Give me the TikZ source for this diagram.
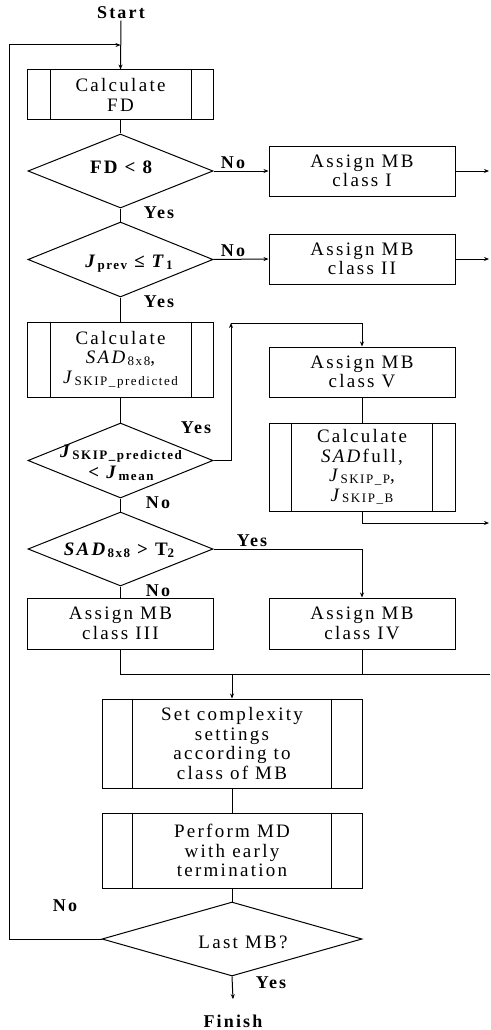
\documentclass[tikz,border=0pt]{standalone}
\usepackage{fontspec}
\setmainfont{Liberation Serif}[LetterSpace=12]
\usetikzlibrary{shapes.geometric,arrows.meta}
\newcommand\sml[1]{\raisebox{-0.1em}{\fontsize{13}{13}\selectfont #1}}
\begin{document}
\begin{tikzpicture}[x=1pt,y=-1pt,line width=1pt,
  box/.style={draw,rectangle,minimum width=186pt,minimum height=50pt,inner sep=0pt,align=center,font=\fontsize{19}{19.5}\selectfont},
  dia/.style={draw,diamond,minimum width=185pt,minimum height=74pt,inner sep=0pt},
  dtxt/.style={font=\fontsize{19}{21}\selectfont\bfseries,align=center,inner sep=0pt},
  lbl/.style={font=\fontsize{18}{18}\selectfont\bfseries,inner sep=1pt},
  arr/.style={-{Stealth[length=5pt,width=4pt]}}]
\useasboundingbox (0,0) rectangle (490,1030);
% nodes
\node[lbl] (start) at (121,13) {Start};
\node[box] (fd) at (120.5,95) {Calculate\\FD};
\node[dia] (d1) at (120.5,171) {};
\node[dtxt] (t1) at (121,167) {FD < 8};
\node[box] (c1) at (362,171) {Assign MB\\class I};
\node[dia,minimum height=75pt] (d2) at (120.5,259.5) {};
\node[dtxt] (t2) at (129,264) {\textit{J}\sml{prev} ≤ \textit{T}\sml{1}};
\node[box] (c2) at (362,259) {Assign MB\\class II};
\node[box,minimum height=75pt] (sad) at (120.5,359.5) {Calculate\\\textit{SAD}\sml{8x8},\\\textit{J}\sml{SKIP\_predicted}};
\node[dia,minimum height=75pt] (d3) at (120.5,460.5) {};
\node[dtxt] (t3) at (121,463) {\textit{J}\sml{SKIP\_predicted}\\< \textit{J}\sml{mean}};
\node[box] (c5) at (362,372) {Assign MB\\class V};
\node[box,minimum height=88pt] (sadf) at (362,467) {Calculate\\\textit{SAD}full,\\\textit{J}\sml{SKIP\_P},\\\textit{J}\sml{SKIP\_B}};
\node[dia] (d4) at (120.5,549) {};
\node[dtxt] (t4) at (119,550) {\textit{SAD}\sml{8x8} > T\sml{2}};
\node[box,minimum height=51pt] (c3) at (120.5,623.5) {Assign MB\\class III};
\node[box,minimum height=51pt] (c4) at (362,623.5) {Assign MB\\class IV};
\node[box,minimum width=260pt,minimum height=89pt] (set) at (232,743.5) {Set complexity\\settings\\according to\\class of MB};
\node[box,minimum width=260pt,minimum height=75pt] (md) at (232,850.5) {Perform MD\\with early\\termination};
\node[dia,minimum width=260pt] (d5) at (232,939) {};
\node[font=\fontsize{19}{19}\selectfont,inner sep=0pt] (t5) at (243,942) {Last MB?};
\node[lbl] (fin) at (233,1021) {Finish};
% subprocess side bars
\foreach \n/\o in {fd/23,sad/23,sadf/23,set/31,md/31}{
  \draw ([xshift=\o pt]\n.north west) -- ([xshift=\o pt]\n.south west)
        ([xshift=-\o pt]\n.north east) -- ([xshift=-\o pt]\n.south east);}
% helper coordinates
\coordinate (j1) at (120.5,45);
\coordinate (lp) at (9,45);
\coordinate (e1) at (489,171);
\coordinate (e2) at (489,259);
\coordinate (e3) at (489,523);
\coordinate (k1) at (231,323);
\coordinate (m3) at (490,674);
\coordinate (m2) at (232,674);
% connectors
\draw[arr] (start.south) -- (fd.north);
\draw (fd.south) -- (d1.north);
\draw[arr] (d1.east) -- (c1.west);
\draw[arr] (c1.east) -- (e1);
\draw (d1.south) -- (d2.north);
\draw[arr] (d2.east) -- (c2.west);
\draw[arr] (c2.east) -- (e2);
\draw (d2.south) -- (sad.north);
\draw (sad.south) -- (d3.north);
\draw[arr] (d3.east) -| (k1);
\draw[arr] (k1) -| (c5.north);
\draw (c5.south) -- (sadf.north);
\draw[arr] (sadf.south) |- (e3);
\draw (d3.south) -- (d4.north);
\draw[arr] (d4.east) -| (c4.north);
\draw (d4.south) -- (c3.north);
\draw (c3.south) |- (m3);
\draw (c4.south) -- (c4.south |- m3);
\draw[arr] (m2) -- (set.north);
\draw (set.south) -- (md.north);
\draw (md.south) -- (d5.north);
\draw[arr] (d5.west) -| (lp) -- (j1);
\draw[arr] (d5.south) -- ([yshift=14pt]fin.north);
% labels
\node[lbl] (l1) at (233,163) {No};
\node[lbl] (l2) at (159,213) {Yes};
\node[lbl] (l3) at (233,251) {No};
\node[lbl] (l4) at (159,302) {Yes};
\node[lbl] (l5) at (196,428) {Yes};
\node[lbl] (l6) at (158,503) {No};
\node[lbl] (l7) at (252,541) {Yes};
\node[lbl] (l8) at (158,591) {No};
\node[lbl] (l9) at (65,906) {No};
\node[lbl] (l10) at (271,983) {Yes};
\end{tikzpicture}
\end{document}
